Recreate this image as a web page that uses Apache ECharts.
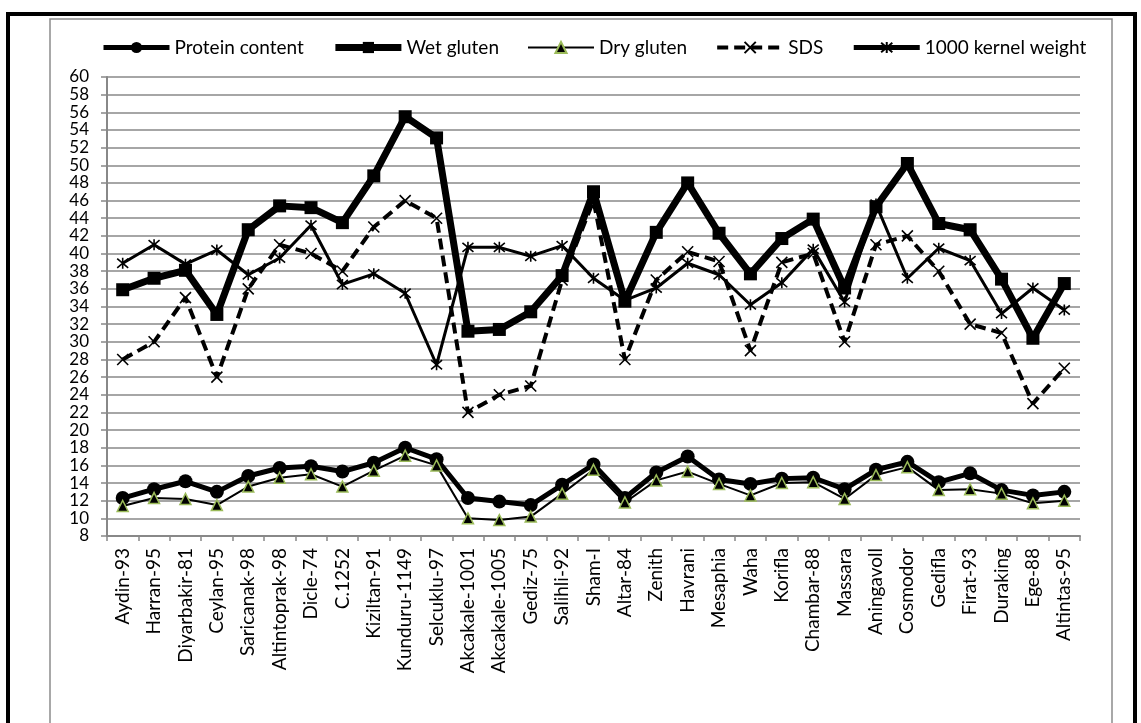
<!DOCTYPE html>
<html>
<head>
<meta charset="utf-8">
<script src="https://cdn.jsdelivr.net/npm/echarts@6/dist/echarts.min.js"></script>
<style>
html,body{margin:0;padding:0;background:#fff;}
#c{width:1141px;height:723px;}
</style>
</head>
<body>
<div id="c"></div>
<script>
const categories = ["Aydin-93","Harran-95","Diyarbakir-81","Ceylan-95","Saricanak-98","Altintoprak-98","Dicle-74","C.1252","Kiziltan-91","Kunduru-1149","Selcuklu-97","Akcakale-1001","Akcakale-1005","Gediz-75","Salihli-92","Sham-I","Altar-84","Zenith","Havrani","Mesaphia","Waha","Korifla","Chambar-88","Massara","Aningavoll","Cosmodor","Gedifla","Firat-93","Duraking","Ege-88","Altintas-95"];
const proteinContent = [12.3,13.3,14.2,13.0,14.8,15.7,15.9,15.3,16.3,18.0,16.7,12.3,11.9,11.5,13.8,16.1,12.3,15.2,17.0,14.4,13.9,14.5,14.6,13.3,15.5,16.4,14.1,15.1,13.2,12.6,13.0];
const wetGluten = [35.9,37.2,38.1,33.1,42.7,45.4,45.2,43.5,48.8,55.5,53.1,31.2,31.4,33.4,37.5,47.0,34.6,42.4,48.0,42.3,37.7,41.7,43.9,36.1,45.3,50.2,43.4,42.7,37.1,30.4,36.6];
const dryGluten = [11.4,12.3,12.2,11.5,13.6,14.6,15.0,13.6,15.4,17.1,16.0,10.0,9.8,10.2,12.8,15.5,11.8,14.3,15.3,13.9,12.6,14.0,14.1,12.2,14.9,15.8,13.2,13.3,12.8,11.7,12.0];
const sds = [28,30,35,26,36,41,40,38,43,46,44,22,24,25,37,46,28,37,40.2,39.1,29,39,40,30,41,42,38,32,31,23,27];
const kernelWeight = [38.9,41.0,38.8,40.4,37.6,39.5,43.2,36.5,37.7,35.5,27.4,40.7,40.7,39.7,40.9,37.2,34.7,36.1,38.9,37.6,34.2,36.7,40.5,34.5,45.6,37.2,40.6,39.2,33.2,36.1,33.6];
const seriesNames = ["Protein content","Wet gluten","Dry gluten","SDS","1000 kernel weight"];

const FONT = 'Lato';
const chart = echarts.init(document.getElementById('c'), null, {renderer:'canvas'});
const xPath = 'path://M0,0L10,10M10,0L0,10';
const starPath = 'path://M0,0L10,10M10,0L0,10M5,-1L5,11';

chart.setOption({
  animation:false,
  backgroundColor:'#fff',
  textStyle:{fontFamily:FONT,color:'#000'},
  graphic:[
    {type:'rect',shape:{x:8,y:14,width:1127,height:800},style:{fill:'none',stroke:'#000',lineWidth:4},silent:true,z:-10},
    {type:'rect',shape:{x:50,y:19,width:1062,height:800},style:{fill:'none',stroke:'#8c8c8c',lineWidth:1.5},silent:true,z:-10}
  ],
  legend:{
    top:33, left:96,
    itemWidth:66, itemHeight:14, itemGap:28,
    lineStyle:{width:'inherit',type:'inherit'},
    textStyle:{fontFamily:FONT,fontSize:19,color:'#000',padding:[0,0,0,0]},
    data:[seriesNames[0],seriesNames[1],seriesNames[2],seriesNames[3],
          {name:seriesNames[4],lineStyle:{width:5}}]
  },
  grid:{left:107,right:61,top:77,bottom:187,containLabel:false},
  xAxis:{
    type:'category',data:categories,boundaryGap:true,
    axisLine:{lineStyle:{color:'#888',width:2}},
    axisTick:{show:true,length:5,lineStyle:{color:'#888',width:1.5}},
    axisLabel:{rotate:90,fontFamily:FONT,fontSize:19,color:'#000',margin:12,interval:0},
    splitLine:{show:false}
  },
  yAxis:{
    type:'value',min:8,max:60,interval:2,
    axisLine:{show:true,lineStyle:{color:'#888',width:2}},
    axisTick:{show:true,length:6,lineStyle:{color:'#888',width:1.5}},
    axisLabel:{fontFamily:FONT,fontSize:17,color:'#000',margin:18},
    splitLine:{lineStyle:{color:'#a6a6a6',width:2}}
  },
  series:[
    {name:seriesNames[0],type:'line',data:proteinContent,symbol:'circle',symbolSize:14,showAllSymbol:true,
     lineStyle:{color:'#000',width:5},itemStyle:{color:'#000'}},
    {name:seriesNames[1],type:'line',data:wetGluten,symbol:'rect',symbolSize:13,showAllSymbol:true,
     lineStyle:{color:'#000',width:7},itemStyle:{color:'#000'}},
    {name:seriesNames[2],type:'line',data:dryGluten,symbol:'triangle',symbolSize:11,showAllSymbol:true,
     lineStyle:{color:'#000',width:2},itemStyle:{color:'#000',borderColor:'#9bbb59',borderWidth:1.5}},
    {name:seriesNames[3],type:'line',data:sds,symbol:xPath,symbolSize:11,showAllSymbol:true,
     lineStyle:{color:'#000',width:4,type:[11,6]},itemStyle:{color:'rgba(0,0,0,0)',borderColor:'#000',borderWidth:1.6}},
    {name:seriesNames[4],type:'line',data:kernelWeight,symbol:starPath,symbolSize:11,showAllSymbol:true,
     lineStyle:{color:'#000',width:3},itemStyle:{color:'rgba(0,0,0,0)',borderColor:'#000',borderWidth:1.6}}
  ]
});
</script>
</body>
</html>
